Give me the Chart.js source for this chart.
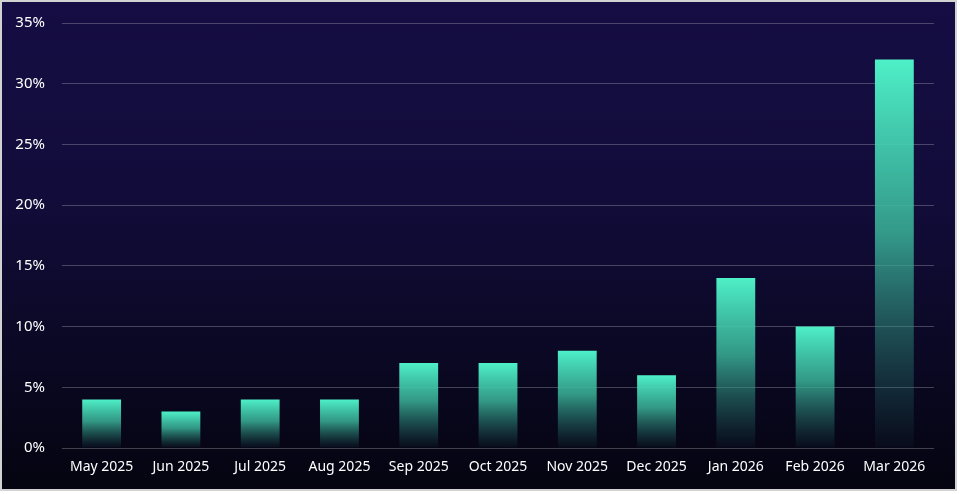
<!DOCTYPE html>
<html>
<head>
<meta charset="utf-8">
<script src="https://cdn.jsdelivr.net/npm/chart.js@4/dist/chart.umd.min.js"></script>
<style>
  html, body { margin: 0; padding: 0; background: #ffffff; }
  #frame {
    position: absolute; left: 0; top: 0;
    width: 957px; height: 491px; box-sizing: border-box;
    border: 2px solid #d2d2d2;
    background: linear-gradient(to bottom, #150d43 0%, #120c3a 40%, #0a0822 75%, #050410 100%);
  }
  #wrap { position: absolute; left: 0; top: 0; width: 953px; height: 487px; }
</style>
</head>
<body>
<div id="frame"><div id="wrap"><canvas id="c"></canvas></div></div>
<script>
const categories = ["May 2025","Jun 2025","Jul 2025","Aug 2025","Sep 2025","Oct 2025","Nov 2025","Dec 2025","Jan 2026","Feb 2026","Mar 2026"];
const values = [4, 3, 4, 4, 7, 7, 8, 6, 14, 10, 32];
const yTicks = [0, 5, 10, 15, 20, 25, 30, 35];

function barGradient(ctx) {
  const chart = ctx.chart;
  if (!chart.chartArea || ctx.type !== 'data') return '#4ef0c8';
  const y = chart.scales.y;
  const top = y.getPixelForValue(ctx.parsed ? ctx.parsed.y : values[ctx.dataIndex]);
  const bottom = y.getPixelForValue(0);
  if (!isFinite(top) || !isFinite(bottom) || bottom - top < 1) return '#4ef0c8';
  const g = chart.ctx.createLinearGradient(0, top, 0, bottom);
  g.addColorStop(0, 'rgba(78,240,200,1)');
  g.addColorStop(0.45, 'rgba(58,178,152,0.85)');
  g.addColorStop(1, 'rgba(40,120,110,0.05)');
  return g;
}

new Chart(document.getElementById('c'), {
  type: 'bar',
  data: {
    labels: categories,
    datasets: [{
      data: values,
      backgroundColor: barGradient,
      borderWidth: 0,
      categoryPercentage: 1,
      barPercentage: 0.49
    }]
  },
  options: {
    responsive: true,
    maintainAspectRatio: false,
    animation: false,
    layout: { padding: { top: 21, right: 21, left: 0, bottom: 0 } },
    plugins: { legend: { display: false }, tooltip: { enabled: false } },
    scales: {
      x: {
        grid: { display: false, drawTicks: false },
        border: { display: false },
        ticks: { color: '#ffffff', font: { family: 'Noto Sans', size: 14 }, padding: 11, maxRotation: 0, autoSkip: false },
        afterFit: (s) => { s.height = 41; }
      },
      y: {
        min: 0, max: 35,
        afterBuildTicks: (s) => { s.ticks = yTicks.map(v => ({ value: v })); },
        grid: { color: 'rgba(255,255,255,0.24)', lineWidth: 1, drawTicks: false },
        border: { display: false },
        ticks: { color: '#ffffff', font: { family: 'Noto Sans', size: 15 }, padding: 17, callback: (v) => v + '%' },
        afterFit: (s) => { s.width = 60; s.paddingTop = 0; s.paddingBottom = 0; }
      }
    }
  }
});
</script>
</body>
</html>
